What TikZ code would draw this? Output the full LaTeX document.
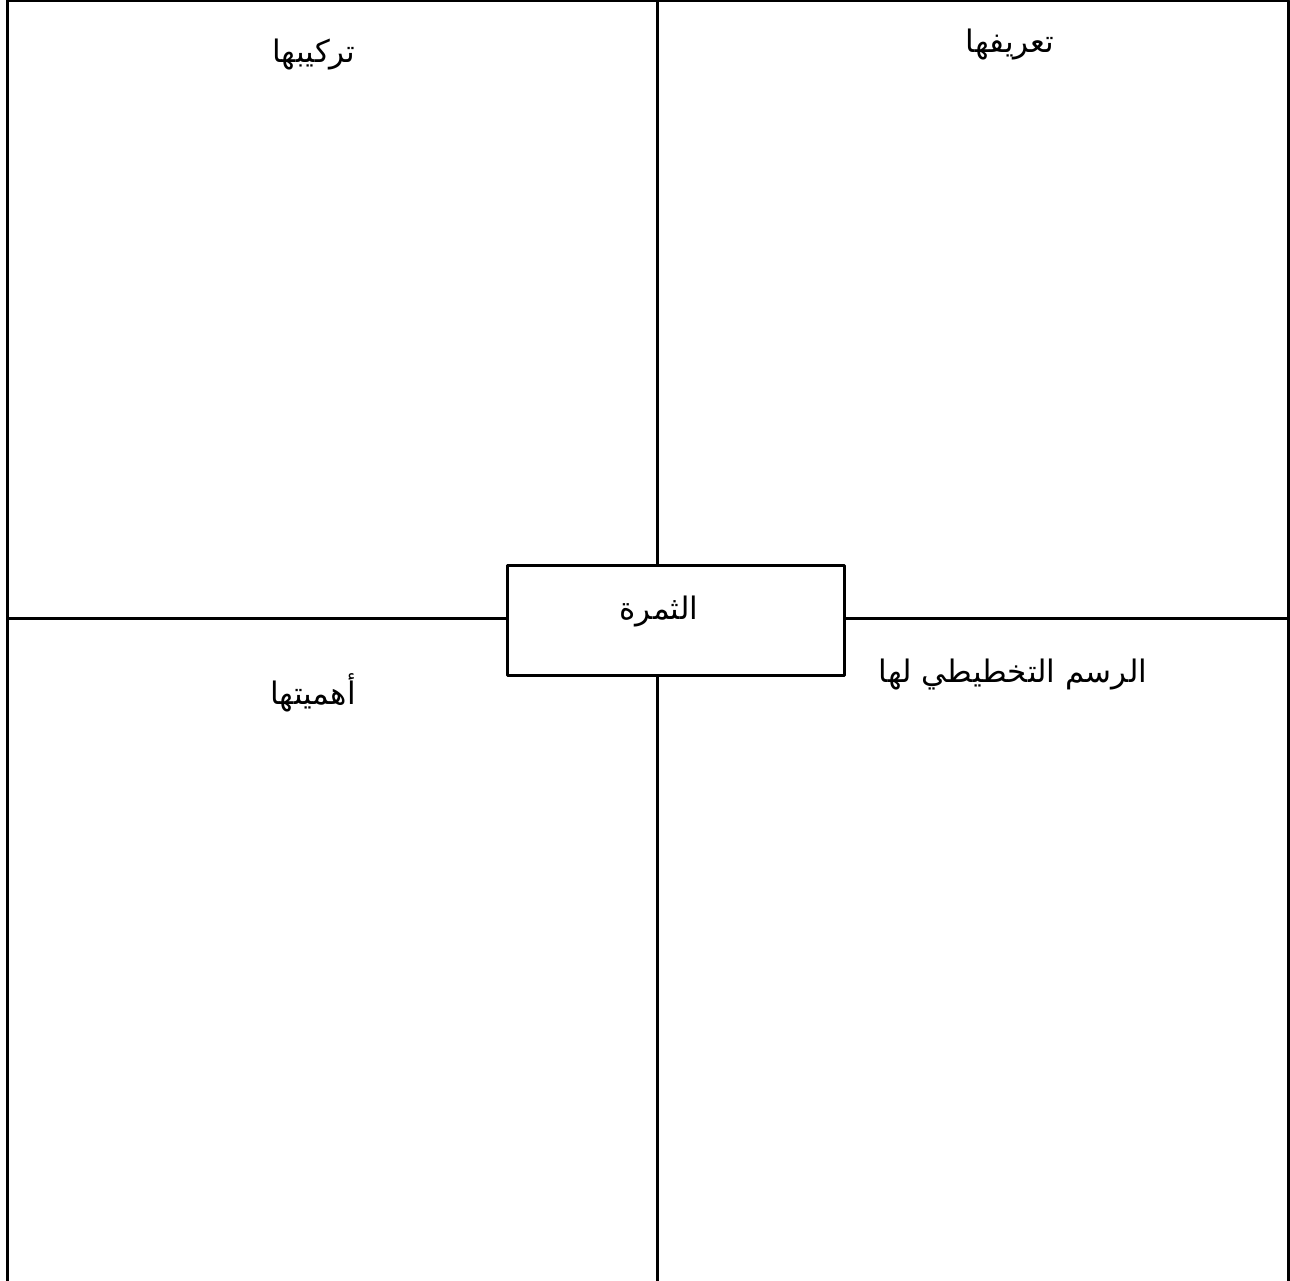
\documentclass[tikz,border=0pt]{standalone}
\usepackage{fontspec}
\newfontfamily\arabicfont[Script=Arabic]{DejaVu Sans}
\TeXXeTstate=1
\tikzset{
	heading/.style={font=\arabicfont\fontsize{31}{36}\selectfont, inner sep=0pt},
	centrebox/.style={draw, line width=3pt, minimum width=337pt, minimum height=110pt, inner sep=0pt}
}
\begin{document}
\begin{tikzpicture}[x=1pt, y=-1pt, line width=3pt, line join = round]
	\useasboundingbox (0,0) rectangle (1290,1281);
	\coordinate (tl) at (7,1);
	\coordinate (tr) at (1288,1);
	\coordinate (bl) at (7,1281);
	\coordinate (br) at (1288,1281);
	\coordinate (ml) at (7,618);
	\coordinate (mr) at (1288,618);
	\coordinate (mt) at (657,1);
	\coordinate (mb) at (657,1281);
	\node[centrebox] (box) at (675.5,620) {};
	\draw (bl) -- (tl) -- (tr) -- (br); % рамка
	\draw (ml) -- (box.west |- ml); % лево
	\draw (box.east |- mr) -- (mr); % право
	\draw (mt) -- (mt |- box.north); % верх
	\draw (mb |- box.south) -- (mb); % низ
	\node[heading] (fruit) at (659,612) {\beginR الثمرة\endR};
	\node[heading] (comp) at (314,55) {\beginR تركيبها\endR};
	\node[heading] (defn) at (1010,45) {\beginR تعريفها\endR};
	\node[heading] (use) at (313,693) {\beginR أهميتها\endR};
	\node[heading] (sketch) at (1013,675) {\beginR الرسم التخطيطي لها\endR};
\end{tikzpicture}
\end{document}
